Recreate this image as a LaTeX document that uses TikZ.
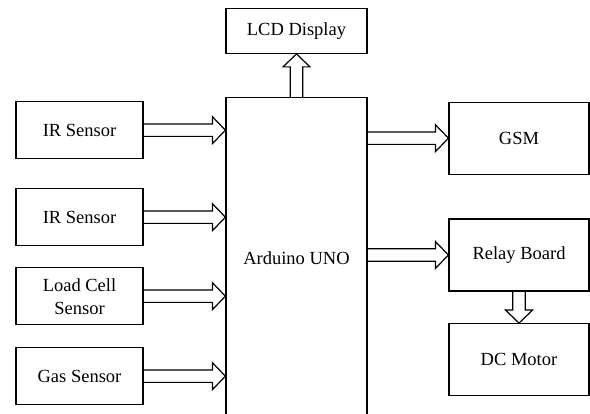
\documentclass[tikz,border=0pt]{standalone}
\usepackage{fontspec}
\setmainfont{Liberation Serif}
\usepackage{tikz}
\usetikzlibrary{calc}

% hollow block arrow from #1 to #2
\newcommand{\fatarrow}[2]{%
  \coordinate (h) at ($(#2)!13pt!(#1)$);
  \draw [fat] ($(#1)!6.2pt!90:(#2)$) -- ($(h)!6.2pt!90:(#2)$) -- ($(h)!13.5pt!90:(#2)$) -- (#2)
    -- ($(h)!13.5pt!-90:(#2)$) -- ($(h)!6.2pt!-90:(#2)$) -- ($(#1)!6.2pt!-90:(#2)$);
}

\begin{document}
\begin{tikzpicture}[x=1pt, y=1pt, node distance=80pt, font=\fontsize{18.5}{23}\selectfont]

\tikzstyle{sensor} = [rectangle, draw=black, line width=1.2pt, minimum width=127pt, minimum height=57pt, align=center]
\tikzstyle{controller} = [rectangle, draw=black, line width=1.2pt, minimum width=141pt, minimum height=320pt]
\tikzstyle{display} = [rectangle, draw=black, line width=1.2pt, minimum width=141pt, minimum height=45pt]
\tikzstyle{output} = [rectangle, draw=black, line width=1.2pt, minimum width=140pt, minimum height=72pt]

\tikzstyle{fat} = [line width=1.2pt, line join=miter]

\useasboundingbox (0,0) rectangle (590,414);

\node (uno) [controller] at (296.5,156.3) {Arduino UNO};
\node (lcd) [display] at (296.5,383.2) {LCD Display};

\node (ir1) [sensor] at (79.5,283.8) {IR Sensor};
\node (ir2) [sensor, below of = ir1, yshift = -7pt] {IR Sensor};
\node (load) [sensor, below of = ir2, yshift = 1pt] {Load Cell\\Sensor};
\node (gas) [sensor, below of = load] {Gas Sensor};

\node (gsm) [output] at (519,275.8) {GSM};
\node (relay) [output, below of = gsm, yshift = -36.8pt] {Relay Board};
\node (dc) [output, below of = relay, yshift = -24.7pt] {DC Motor};

\coordinate (in1) at (ir1.east -| uno.west);
\coordinate (in2) at (ir2.east -| uno.west);
\coordinate (in3) at (load.east -| uno.west);
\coordinate (in4) at (gas.east -| uno.west);
\coordinate (out1) at (gsm.west -| uno.east);
\coordinate (out2) at (relay.west -| uno.east);

\fatarrow{ir1.east}{in1}
\fatarrow{ir2.east}{in2}
\fatarrow{load.east}{in3}
\fatarrow{gas.east}{in4}
\fatarrow{uno.north}{lcd.south}
\fatarrow{out1}{gsm.west}
\fatarrow{out2}{relay.west}
\fatarrow{relay.south}{dc.north}

\end{tikzpicture}
\end{document}
